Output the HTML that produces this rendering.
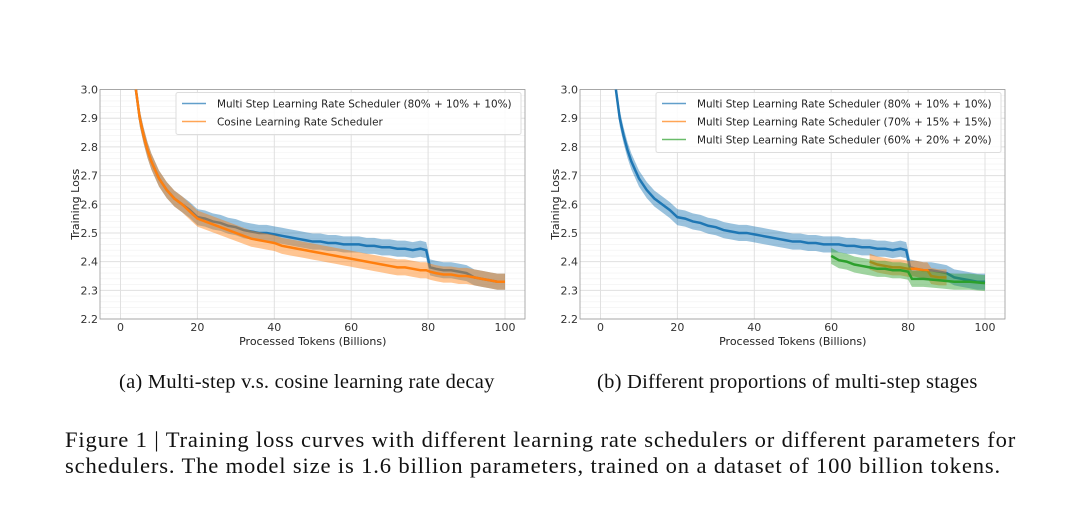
<!DOCTYPE html>
<html><head><meta charset="utf-8"><style>
body{margin:0;background:#fff;width:1080px;height:506px;overflow:hidden;position:relative}
.cap{position:absolute;font-family:"Liberation Serif",serif;color:#111;white-space:nowrap}
</style></head><body>
<svg id="fig" width="1080" height="360" style="position:absolute;left:0;top:0"></svg>
<div class="cap" style="left:119px;top:371px;font-size:20.5px;letter-spacing:0.25px">(a) Multi-step v.s. cosine learning rate decay</div>
<div class="cap" style="left:597px;top:371px;font-size:20.5px;letter-spacing:0.25px">(b) Different proportions of multi-step stages</div>
<div class="cap" style="left:65px;top:427px;font-size:22.6px;line-height:26px;letter-spacing:0.85px">Figure 1 | Training loss curves with different learning rate schedulers or different parameters for<br>schedulers. The model size is 1.6 billion parameters, trained on a dataset of 100 billion tokens.</div>
<script>
const xTicks=[0,20,40,60,80,100];
const yTicks=[2.2,2.3,2.4,2.5,2.6,2.7,2.8,2.9,3.0];
const xsEarly=[4,5,6,7,8,9,10,12,14,16,18,20,22,24,26,28,30,32,34,36,38,40,42,44,46,48,50,52,54,56,58,60];
const blueEarly=[3.0,2.9,2.84,2.79,2.75,2.72,2.69,2.65,2.62,2.6,2.58,2.555,2.55,2.54,2.535,2.525,2.52,2.51,2.505,2.5,2.5,2.495,2.49,2.485,2.48,2.475,2.47,2.47,2.465,2.465,2.46,2.46];
const xsLate=[62,64,66,68,70,72,74,76,78,79.5,80.5,82,84,86,88,90,92,94,96,98,100];
const blueLate=[2.46,2.455,2.455,2.45,2.45,2.445,2.445,2.44,2.445,2.44,2.38,2.375,2.37,2.37,2.365,2.36,2.345,2.34,2.335,2.33,2.33];
const cosineEarly=[3.0,2.9,2.84,2.79,2.75,2.72,2.69,2.65,2.62,2.6,2.575,2.55,2.54,2.53,2.52,2.51,2.5,2.49,2.48,2.475,2.47,2.465,2.455,2.45,2.445,2.44,2.435,2.43,2.425,2.42,2.415,2.41];
const cosineLate=[2.405,2.4,2.395,2.39,2.385,2.38,2.38,2.375,2.37,2.37,2.365,2.36,2.355,2.355,2.35,2.35,2.345,2.34,2.335,2.33,2.33];
const xsOrange=[70,72,74,76,78,80,82,84,85,86,88,90];
const orange70=[2.4,2.39,2.385,2.38,2.38,2.375,2.375,2.37,2.37,2.35,2.345,2.345];
const xsGreen=[60,62,64,66,68,70,72,74,76,78,80,81,84,88,92,96,100];
const green60=[2.42,2.405,2.4,2.39,2.385,2.38,2.375,2.375,2.37,2.37,2.365,2.34,2.34,2.335,2.33,2.33,2.325];
const NS="http://www.w3.org/2000/svg";
const svg=document.getElementById('fig');
function mk(t,a,p){const e=document.createElementNS(NS,t);for(const k in a)e.setAttribute(k,a[k]);(p||svg).appendChild(e);return e;}
function chart(ox,name,series,legend){
  const X0=ox+20.5,X1=ox+405,L=ox,R=ox+425,T=89.5,B=319;
  const xs=v=>X0+(X1-X0)*v/100, ys=v=>B-(B-T)*(v-2.2)/0.8;
  const g=mk('g',{});
  
  
  mk('rect',{x:L,y:T,width:R-L,height:B-T,fill:'#fff'},g);
  for(let v=2.2;v<3.0;v+=0.02){mk('line',{x1:L,x2:R,y1:ys(v),y2:ys(v),stroke:'#f0f0f0','stroke-width':0.6},g);}
  yTicks.forEach(v=>{mk('line',{x1:L,x2:R,y1:ys(v),y2:ys(v),stroke:'#e0e0e0','stroke-width':1},g);
    const t=mk('text',{x:L-2,y:ys(v)+4,'text-anchor':'end','font-size':11,'font-family':'DejaVu Sans,sans-serif',fill:'#333'},g);t.textContent=v.toFixed(1);
    });
  xTicks.forEach(v=>{mk('line',{x1:xs(v),x2:xs(v),y1:T,y2:B,stroke:'#e0e0e0','stroke-width':1},g);
    const t=mk('text',{x:xs(v),y:B+12,'text-anchor':'middle','font-size':11,'font-family':'DejaVu Sans,sans-serif',fill:'#333'},g);t.textContent=v;
    });
  mk('rect',{x:L,y:T,width:R-L,height:B-T,fill:'none',stroke:'#999','stroke-width':0.8},g);
  const cp=mk('clipPath',{id:'c'+ox},g);mk('rect',{x:L,y:T,width:R-L,height:B-T},cp);
  const pg=mk('g',{'clip-path':'url(#c'+ox+')'},g);
  series.forEach(s=>{
    const up=s.x.map((x,i)=>xs(x)+','+ys(s.y[i]+0.028)).join(' ');
    const dn=s.x.map((x,i)=>xs(x)+','+ys(s.y[i]-0.028)).reverse().join(' ');
    const band=mk('polygon',{points:up+' '+dn,fill:s.c,opacity:0.45},pg);
    
    const d=s.x.map((x,i)=>(i?'L':'M')+xs(x)+' '+ys(s.y[i])).join('');
    const p=mk('path',{d:d,fill:'none',stroke:s.c,'stroke-width':2.5},pg);
    
  });
  const yl=mk('text',{x:0,y:0,transform:`translate(${ox-21},${(T+B)/2}) rotate(-90)`,'text-anchor':'middle','font-size':11,'font-family':'DejaVu Sans,sans-serif',fill:'#222'},g);yl.textContent='Training Loss';
  
  const xl=mk('text',{x:(X0+X1)/2,y:B+26,'text-anchor':'middle','font-size':11,'font-family':'DejaVu Sans,sans-serif',fill:'#222'},g);xl.textContent='Processed Tokens (Billions)';
  
  const lx=ox+76,lw=R-4-lx,lh=6+legend.length*18;
  const lg=mk('g',{},g);
  mk('rect',{x:lx,y:T+3,width:lw,height:lh,fill:'#fff','fill-opacity':0.85,stroke:'#ddd',rx:2},lg);
  legend.forEach((e,i)=>{const y=T+14+i*18;
    mk('line',{x1:lx+6,x2:lx+30,y1:y,y2:y,stroke:e[1],'stroke-width':1.5,opacity:0.7},lg);
    const t=mk('text',{x:lx+41,y:y+4,'font-size':10.4,'font-family':'DejaVu Sans,sans-serif',fill:'#222'},lg);t.textContent=e[0];
    });
}
const B='#1f77b4',O='#ff7f0e',G='#2ca02c';
const bx=xsEarly.concat(xsLate),by=blueEarly.concat(blueLate),cy=cosineEarly.concat(cosineLate);
chart(100,'chart-a',[{x:bx,y:by,c:B,n:'multistep'},{x:bx,y:cy,c:O,n:'cosine'}],
 [['Multi Step Learning Rate Scheduler (80% + 10% + 10%)',B],['Cosine Learning Rate Scheduler',O]]);
chart(580,'chart-b',[{x:bx,y:by,c:B,n:'multistep-80'},{x:xsOrange,y:orange70,c:O,n:'multistep-70'},{x:xsGreen,y:green60,c:G,n:'multistep-60'}],
 [['Multi Step Learning Rate Scheduler (80% + 10% + 10%)',B],['Multi Step Learning Rate Scheduler (70% + 15% + 15%)',O],['Multi Step Learning Rate Scheduler (60% + 20% + 20%)',G]]);
</script>
</body></html>
